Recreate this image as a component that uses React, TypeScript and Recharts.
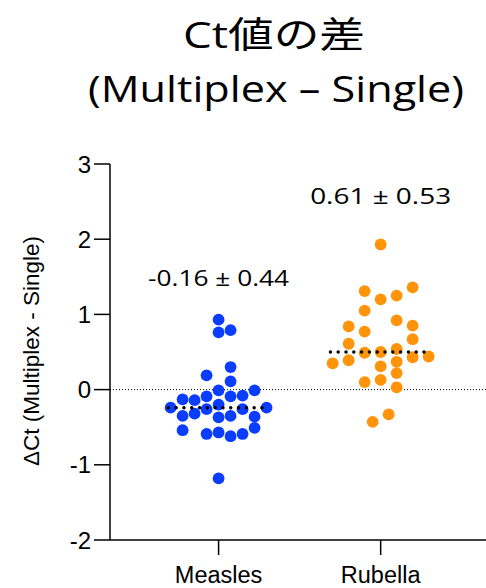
import React from "react";
import {
  ScatterChart,
  Scatter,
  XAxis,
  YAxis,
  ReferenceLine,
  ReferenceDot,
} from "recharts";

// ---- data ----
const categories = ["Measles", "Rubella"];
const yTicks = [-2, -1, 0, 1, 2, 3];

const measlesValues = [
  0.93, 0.79, 0.76, 0.3, 0.19, 0.11, -0.01, -0.01, -0.09, -0.09, -0.08, -0.13,
  -0.14, -0.2, -0.24, -0.26, -0.26, -0.24, -0.35, -0.32, -0.37, -0.35, -0.36,
  -0.54, -0.59, -0.57, -0.62, -0.59, -0.51, -1.18,
];
// swarm column of each point
const measlesSlots = [
  0, 1, 0, 1, -1, 1, 0, 3, -1, 1, 2, -3, -2, 0, -4, -1, 2, 4, -3, -2, 0, 1, 3,
  -3, -1, 0, 1, 2, 3, 0,
];

const rubellaValues = [
  1.93, 1.36, 1.31, 1.2, 1.25, 1.05, 0.92, 0.84, 0.85, 0.77, 0.67, 0.61, 0.49,
  0.5, 0.54, 0.35, 0.39, 0.37, 0.43, 0.44, 0.31, 0.22, 0.1, 0.13, 0.03, -0.33,
  -0.43,
];
const rubellaSlots = [
  0, 2, -1, 0, 1, -1, 1, -2, 2, -1, 2, -2, -1, 0, 1, -3, -2, 1, 2, 3, 0, 1, -1,
  0, 1, 0.5, -0.5,
];

const centerLines = [-0.24, 0.5];
const annotations = ["-0.16 ± 0.44", "0.61 ± 0.53"];
const annotationY = [1.49, 2.57];

const titleLines = ["Ct値の差", "(Multiplex – Single)"];
const yLabel = "ΔCt (Multiplex - Single)";

// ---- styles ----
const BLUE = "#0a3dff";
const ORANGE = "#ff940a";
const PITCH = [0.074, 0.0987];
const HALF = 0.31;
const ARIAL = "'Liberation Sans', Arial, sans-serif";
const SANS = "'Open Sans', 'Noto Sans CJK JP', sans-serif";

const toPoints = (vals: number[], slots: number[], cat: number, pitch: number) =>
  vals.map((v, i) => ({ x: cat + slots[i] * pitch, y: v }));

const measlesData = toPoints(measlesValues, measlesSlots, 1, PITCH[0]);
const rubellaData = toPoints(rubellaValues, rubellaSlots, 2, PITCH[1]);
const lineData = centerLines.map((v, i) => [
  { x: i + 1 - HALF, y: v },
  { x: i + 1 + HALF, y: v },
]);

const dot = (color: string) => (props: any) =>
  <circle cx={props.cx} cy={props.cy} r={5.9} fill={color} />;

const noShape = () => <g />;

const annLabel = (text: string) => (props: any) => {
  const vb = props.viewBox || {};
  const cx = (vb.x || 0) + (vb.width || 0) / 2;
  const cy = (vb.y || 0) + (vb.height || 0) / 2;
  return (
    <text
      x={cx}
      y={cy + 8}
      textAnchor="middle"
      fontSize={22.5}
      fontFamily={SANS}
      fill="#000"
      textLength={141}
      lengthAdjust="spacingAndGlyphs"
    >
      {text}
    </text>
  );
};

export default function App() {
  return (
    <div
      style={{
        position: "absolute",
        left: 0,
        top: 0,
        width: 486,
        height: 588,
        background: "#fff",
      }}
    >
      <svg
        width={486}
        height={588}
        style={{ position: "absolute", left: 0, top: 0 }}
      >
        <text
          x={274}
          y={48}
          textAnchor="middle"
          fontSize={36}
          fontFamily={SANS}
          fill="#000"
          textLength={182}
          lengthAdjust="spacingAndGlyphs"
        >
          {titleLines[0]}
        </text>
        <text
          x={276}
          y={101.5}
          textAnchor="middle"
          fontSize={36}
          fontFamily={SANS}
          fill="#000"
          textLength={376}
          lengthAdjust="spacingAndGlyphs"
        >
          {titleLines[1]}
        </text>
        <text
          transform="translate(39, 351) rotate(-90)"
          x={0}
          y={0}
          textAnchor="middle"
          fontSize={22.5}
          fontFamily={ARIAL}
          fill="#000"
        >
          {yLabel}
        </text>
      </svg>
      <div style={{ position: "absolute", left: 0, top: 0 }}>
        <ScatterChart
          width={486}
          height={588}
          margin={{ top: 164, right: 0, bottom: 8, left: 50 }}
        >
          <XAxis
            type="number"
            dataKey="x"
            domain={[0.33, 2.65]}
            ticks={[1, 2]}
            tickFormatter={(v: number) => categories[v - 1]}
            allowDataOverflow
            height={40}
            tickSize={15}
            tickMargin={11}
            stroke="#000"
            strokeWidth={1.5}
            tick={{ fill: "#000", fontSize: 23.5, fontFamily: ARIAL }}
          />
          <YAxis
            type="number"
            dataKey="y"
            domain={[-2, 3]}
            ticks={yTicks}
            allowDataOverflow
            width={60}
            tickSize={16}
            tickMargin={3}
            stroke="#000"
            strokeWidth={1.5}
            tick={{ fill: "#000", fontSize: 24, fontFamily: ARIAL }}
          />
          <ReferenceLine
            y={0}
            stroke="#000"
            strokeWidth={1}
            strokeDasharray="1 2"
          />
          <Scatter
            data={measlesData}
            fill={BLUE}
            shape={dot(BLUE)}
            isAnimationActive={false}
          />
          <Scatter
            data={rubellaData}
            fill={ORANGE}
            shape={dot(ORANGE)}
            isAnimationActive={false}
          />
          {lineData.map((d, i) => (
            <Scatter
              key={"l" + i}
              data={d}
              shape={noShape}
              line={{
                stroke: "#000",
                strokeWidth: 3.5,
                strokeDasharray: "0 7.8",
                strokeLinecap: "round",
              }}
              isAnimationActive={false}
            />
          ))}
          {annotations.map((t, i) => (
            <ReferenceDot
              key={"a" + i}
              x={i + 1}
              y={annotationY[i]}
              r={0}
              stroke="none"
              fill="none"
              label={annLabel(t)}
            />
          ))}
        </ScatterChart>
      </div>
    </div>
  );
}
